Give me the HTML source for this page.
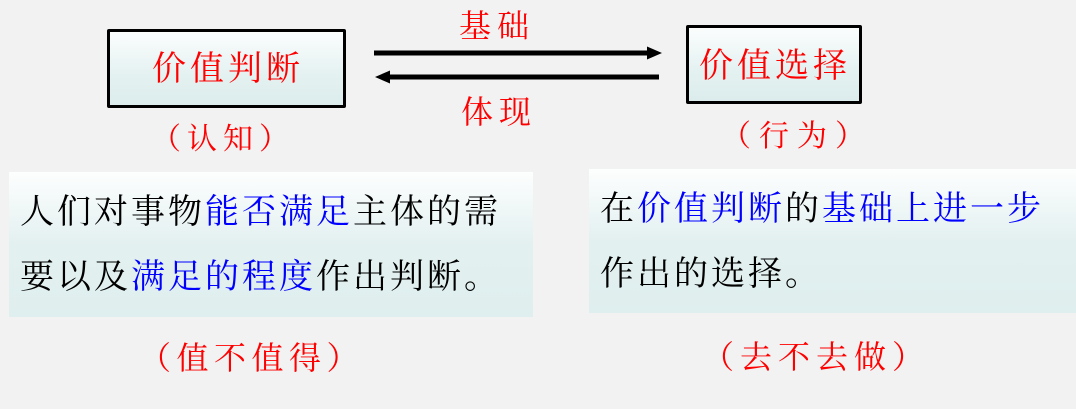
<!DOCTYPE html>
<html><head><meta charset="utf-8">
<style>
html,body{margin:0;padding:0;}
body{width:1076px;height:409px;background:#f2f2f2;position:relative;overflow:hidden;font-family:"Liberation Serif","Noto Serif CJK SC",serif;}
.box{position:absolute;box-sizing:border-box;border:3px solid #000;border-radius:2px;background:linear-gradient(#fbfdfd,#e4f1f1 60%,#dcecec);}
.panel{position:absolute;background:linear-gradient(#fdfefe,#e3f0f0 50%,#dfeeee);}
.t{position:absolute;white-space:nowrap;text-align:center;}
.red{color:#ff0000;}
.blue{color:#0000ff;}
.body{position:absolute;white-space:nowrap;font-size:34px;line-height:65px;letter-spacing:3px;color:#000;}
</style></head>
<body>
<div class="box" style="left:107px;top:29px;width:239px;height:79px;"></div>
<div class="box" style="left:686px;top:25px;width:176px;height:79px;"></div>

<div class="t red" style="left:124px;top:51px;width:200px;font-size:34px;line-height:38px;letter-spacing:4px;padding-left:4px;">价值判断</div>
<div class="t red" style="left:671px;top:48px;width:200px;font-size:34px;line-height:38px;letter-spacing:4px;padding-left:4px;">价值选择</div>

<div class="t red" style="left:441px;top:9px;width:100px;font-size:32px;line-height:34px;letter-spacing:6px;padding-left:6px;">基础</div>
<div class="t red" style="left:443px;top:95px;width:100px;font-size:32px;line-height:34px;letter-spacing:6px;padding-left:6px;">体现</div>

<svg style="position:absolute;left:0;top:0;" width="1076" height="409">
<line x1="374" y1="53" x2="650" y2="53" stroke="#000" stroke-width="5"/>
<polygon points="647,46.5 662,53 647,59.5" fill="#000"/>
<line x1="387" y1="77" x2="659" y2="77" stroke="#000" stroke-width="5"/>
<polygon points="390,70.5 375,77 390,83.5" fill="#000"/>
</svg>

<div class="t red" style="left:132px;top:123px;width:170px;font-size:30px;line-height:34px;letter-spacing:6px;padding-left:6px;">（认知）</div>
<div class="t red" style="left:699px;top:120px;width:180px;font-size:30px;line-height:34px;letter-spacing:8px;padding-left:8px;">（行为）</div>

<div class="panel" style="left:9px;top:172px;width:524px;height:145px;"></div>
<div class="panel" style="left:589px;top:169px;width:487px;height:144px;"></div>

<div class="body" style="left:20px;top:180px;">人们对事物<span class="blue">能否满足</span>主体的需<br>要以及<span class="blue">满足的程度</span>作出判断。</div>
<div class="body" style="left:600px;top:177px;">在<span class="blue">价值判断</span>的<span class="blue">基础上进一步</span><br>作出的选择。</div>

<div class="t red" style="left:131px;top:340px;width:230px;font-size:32px;line-height:36px;letter-spacing:5.5px;padding-left:5.5px;">（值不值得）</div>
<div class="t red" style="left:695px;top:339px;width:230px;font-size:32px;line-height:36px;letter-spacing:6px;padding-left:6px;">（去不去做）</div>
</body></html>
